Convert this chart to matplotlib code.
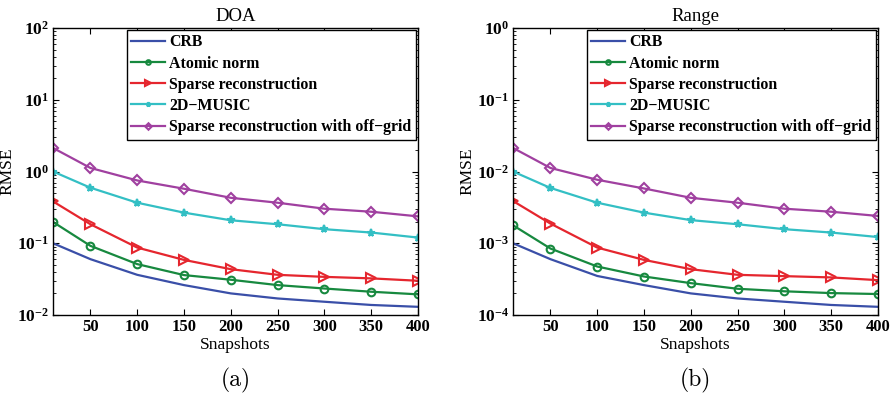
import math
import matplotlib
matplotlib.use("Agg")
import matplotlib.pyplot as plt
from matplotlib.ticker import LogLocator, NullFormatter, FixedLocator

plt.rcParams['font.family'] = ['Liberation Serif', 'DejaVu Serif']
plt.rcParams['mathtext.fontset'] = 'custom'
plt.rcParams['mathtext.rm'] = 'Liberation Serif'
plt.rcParams['mathtext.bf'] = 'Liberation Serif:bold'

snapshots = [10, 50, 100, 150, 200, 250, 300, 350, 400]
xticks = [50, 100, 150, 200, 250, 300, 350, 400]
labels = ['CRB', 'Atomic norm', 'Sparse reconstruction', '2D\u2212MUSIC',
          'Sparse reconstruction with off\u2212grid']

# DOA panel
doa_crb = [0.100, 0.060, 0.0363, 0.0261, 0.0200, 0.0170, 0.0153, 0.0138, 0.0130]
doa_atomic = [0.198, 0.092, 0.0512, 0.036, 0.031, 0.0261, 0.0234, 0.0211, 0.0194]
doa_sparse = [0.383, 0.184, 0.087, 0.0586, 0.0435, 0.0363, 0.034, 0.0324, 0.030]
doa_music = [1.0, 0.594, 0.367, 0.267, 0.209, 0.184, 0.157, 0.141, 0.120]
doa_offgrid = [2.13, 1.12, 0.75, 0.575, 0.43, 0.367, 0.303, 0.275, 0.237]

# Range panel
rng_crb = [0.00100, 0.00060, 0.00035, 0.000261, 0.000200, 0.000170, 0.000153, 0.000138, 0.000130]
rng_atomic = [0.00178, 0.000844, 0.000474, 0.000344, 0.000278, 0.000232, 0.000214, 0.000202, 0.000196]
rng_sparse = [0.00388, 0.00188, 0.00087, 0.000586, 0.000435, 0.000363, 0.000348, 0.000334, 0.000306]
rng_music = [0.0100, 0.0059, 0.00367, 0.00267, 0.0021, 0.00184, 0.00157, 0.00141, 0.00122]
rng_offgrid = [0.0213, 0.0112, 0.00767, 0.0058, 0.0043, 0.00367, 0.00303, 0.00275, 0.0024]

colors = ['#3a4fa8', '#17893f', '#e5262e', '#33bfc4', '#a040a0']
markers = [None, 'o', '>', '*', 'D']
msizes = [0, 5.5, 7.5, 5.5, 5.5]

fig = plt.figure(figsize=(8.95, 3.99), dpi=100)
ax1 = fig.add_axes([53/895, 84/399, 365/895, 287/399])
ax2 = fig.add_axes([513/895, 84/399, 365/895, 287/399])


def draw(ax, series, title, ylim, caption):
    for y, c, m, ms, lab in zip(series, colors, markers, msizes, labels):
        mfc = c if m == '*' else 'none'
        ax.plot(snapshots, y, color=c, lw=1.6, marker=m, ms=ms, mfc=mfc,
                mec=c, mew=1.5, label=lab)
    ax.set_yscale('log')
    ax.set_xlim(10, 400)
    ax.set_ylim(*ylim)
    ax.xaxis.set_major_locator(FixedLocator(xticks))
    ax.set_xticklabels([str(v) for v in xticks], fontweight='bold', fontsize=12)
    lo, hi = int(round(math.log10(ylim[0]))), int(round(math.log10(ylim[1])))
    dec = list(range(lo, hi + 1))
    ax.set_yticks([10.0**d for d in dec])
    ax.set_yticklabels([r'$\mathbf{10^{%d}}$' % d for d in dec], fontsize=12.5)
    ax.yaxis.set_minor_locator(LogLocator(base=10, subs=range(2, 10), numticks=20))
    ax.yaxis.set_minor_formatter(NullFormatter())
    ax.tick_params(which='both', direction='in', top=True, right=True)
    ax.tick_params(which='major', length=4, width=0.8)
    ax.tick_params(which='minor', length=2, width=0.6)
    ax.tick_params(axis='x', pad=3)
    ax.tick_params(axis='y', pad=3)
    ax.set_title(title, fontsize=13.5, pad=5)
    ax.set_xlabel('Snapshots', fontsize=12.5, labelpad=1)
    ax.set_ylabel('RMSE', fontsize=12.5, labelpad=1)
    for s in ax.spines.values():
        s.set_linewidth(1.0)
    leg = ax.legend(loc='upper right', fancybox=False, edgecolor='black',
                    framealpha=1, borderaxespad=0.1, handlelength=2.1,
                    handletextpad=0.3, labelspacing=0.33, markerscale=0.6,
                    borderpad=0.3,
                    prop={'weight': 'bold', 'size': 11.4, 'family': 'Liberation Serif'})
    leg.get_frame().set_linewidth(1.0)
    pos = ax.get_position()
    fig.text(pos.x0 + pos.width / 2, 19/399, caption, ha='center', va='center',
             fontsize=17, family='cmr10')


draw(ax1, [doa_crb, doa_atomic, doa_sparse, doa_music, doa_offgrid], 'DOA', (1e-2, 1e2), '(a)')
draw(ax2, [rng_crb, rng_atomic, rng_sparse, rng_music, rng_offgrid], 'Range', (1e-4, 1e0), '(b)')

fig.savefig('out.png', dpi=100)
